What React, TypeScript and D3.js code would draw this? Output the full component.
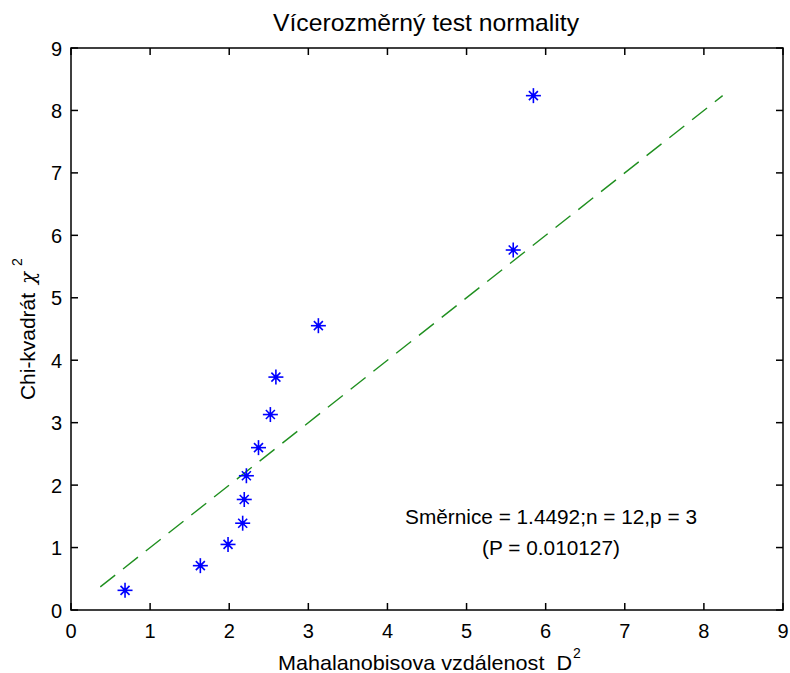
import React from "react";
import * as d3 from "d3";

const W = 790;
const H = 673;

// Mahalanobis distance D^2 (x) vs chi-square quantile (y)
const mahalanobisD2 = [0.683, 1.635, 1.985, 2.17, 2.19, 2.217, 2.37, 2.52, 2.59, 3.127, 5.59, 5.845];
const chiSquare = [0.315, 0.71, 1.05, 1.39, 1.77, 2.15, 2.6, 3.13, 3.73, 4.553, 5.765, 8.237];
const refLineX = [0.37, 8.237];
const refLineY = [0.37, 8.237];
const xTicks = [0, 1, 2, 3, 4, 5, 6, 7, 8, 9];
const yTicks = [0, 1, 2, 3, 4, 5, 6, 7, 8, 9];

const titleText = "Vícerozměrný test normality";
const xLabelText = "Mahalanobisova vzdálenost  D";
const yLabelText = "Chi-kvadrát";
const annot1 = "Směrnice = 1.4492;n = 12,p = 3";
const annot2 = "(P = 0.010127)";

const FONT = "'Liberation Sans', Arial, sans-serif";

export default function App() {
  const left = 71, right = 783, top = 48, bottom = 610;
  const x = d3.scaleLinear().domain([0, 9]).range([left, right]);
  const y = d3.scaleLinear().domain([0, 9]).range([bottom, top]);
  const tickLen = 7;
  const points = mahalanobisD2.map((d, i) => [x(d), y(chiSquare[i])]);
  const line = d3.line<number>().x((d, i) => x(refLineX[i])).y((d, i) => y(refLineY[i]));

  return (
    <svg
      width={W}
      height={H}
      style={{ position: "absolute", left: 0, top: 0, background: "#fff" }}
      fontFamily={FONT}
    >
      <rect x={0} y={0} width={W} height={H} fill="#fff" />
      {/* title */}
      <text x={426} y={31} fontSize={24} textAnchor="middle" textLength={306} lengthAdjust="spacingAndGlyphs" fill="#000">
        {titleText}
      </text>

      {/* reference line */}
      <path
        d={line(refLineX) || ""}
        fill="none"
        stroke="#1f8f1f"
        strokeWidth={1.4}
        strokeDasharray="19 10"
      />

      {/* markers */}
      {points.map(([px, py], i) => (
        <g key={i} stroke="#0000ff" strokeWidth={1.6} strokeLinecap="butt">
          <line x1={px - 7.5} y1={py} x2={px + 7.5} y2={py} />
          <line x1={px} y1={py - 7.5} x2={px} y2={py + 7.5} />
          <line x1={px - 4.5} y1={py - 4.5} x2={px + 4.5} y2={py + 4.5} />
          <line x1={px - 4.5} y1={py + 4.5} x2={px + 4.5} y2={py - 4.5} />
          <circle cx={px} cy={py} r={2.4} fill="#0000ff" stroke="none" />
        </g>
      ))}

      {/* axes box */}
      <rect x={left} y={top} width={right - left} height={bottom - top} fill="none" stroke="#000" strokeWidth={1.5} />
      {xTicks.map((t) => (
        <g key={"x" + t}>
          <line x1={x(t)} x2={x(t)} y1={bottom} y2={bottom - tickLen} stroke="#000" strokeWidth={1.5} />
          <line x1={x(t)} x2={x(t)} y1={top} y2={top + tickLen} stroke="#000" strokeWidth={1.5} />
          <text x={x(t)} y={638} fontSize={20} textAnchor="middle" fill="#000">{t}</text>
        </g>
      ))}
      {yTicks.map((t) => (
        <g key={"y" + t}>
          <line x1={left} x2={left + tickLen} y1={y(t)} y2={y(t)} stroke="#000" strokeWidth={1.5} />
          <line x1={right} x2={right - tickLen} y1={y(t)} y2={y(t)} stroke="#000" strokeWidth={1.5} />
          <text x={62} y={y(t) + 7.5} fontSize={20} textAnchor="end" fill="#000">{t}</text>
        </g>
      ))}

      {/* x label */}
      <text x={278} y={670} fontSize={21} textLength={294} lengthAdjust="spacingAndGlyphs" fill="#000" style={{ whiteSpace: "pre" }} xmlSpace="preserve">
        {xLabelText}
      </text>
      <text x={573} y={658} fontSize={14} fill="#000">2</text>

      {/* y label */}
      <g transform="translate(35,400) rotate(-90)">
        <text x={0} y={0} fontSize={20} textLength={107} lengthAdjust="spacingAndGlyphs" fill="#000">
          {yLabelText}
        </text>
        <text x={116} y={0} fontSize={20} fill="#000" fontFamily="'DejaVu Serif', serif" fontStyle="italic">χ</text>
        <text x={134} y={-13} fontSize={14} fill="#000">2</text>
      </g>

      {/* annotation */}
      <text x={551} y={524} fontSize={20.8} textAnchor="middle" fill="#000">{annot1}</text>
      <text x={551} y={555} fontSize={20.8} textAnchor="middle" fill="#000">{annot2}</text>
    </svg>
  );
}
